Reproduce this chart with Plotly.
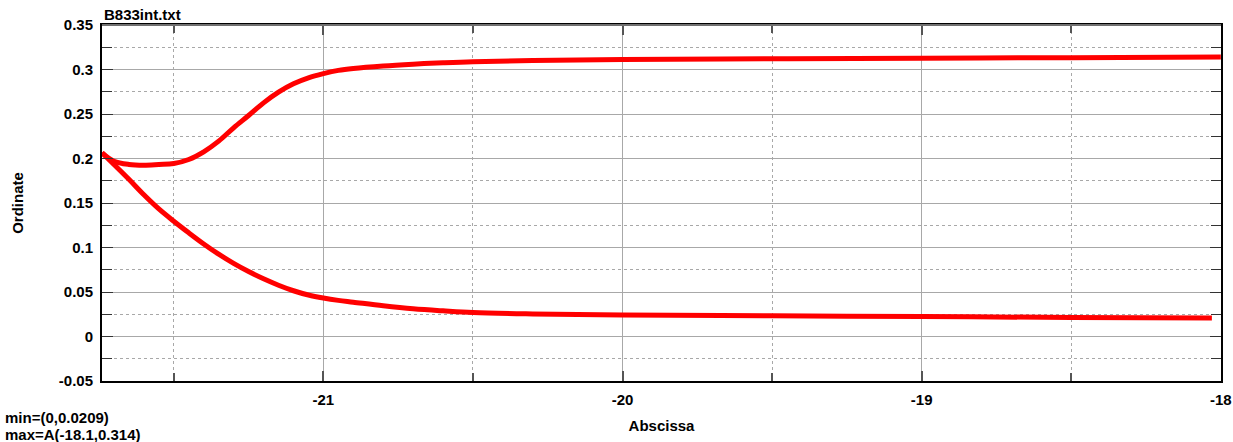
import plotly.graph_objects as go

# Curve samples (abscissa, ordinate)
x_upper = [-21.74, -21.70, -21.65, -21.60, -21.55, -21.50, -21.45, -21.40, -21.35, -21.30,
           -21.25, -21.20, -21.15, -21.10, -21.05, -21.00, -20.95, -20.90, -20.80, -20.70,
           -20.60, -20.50, -20.30, -20.00, -19.50, -19.00, -18.50, -18.00]
y_upper = [0.2064, 0.1970, 0.1933, 0.1925, 0.1933, 0.1944, 0.1989, 0.2075, 0.2195, 0.2345,
           0.2483, 0.2625, 0.2745, 0.2839, 0.2906, 0.2953, 0.2990, 0.3012, 0.3040, 0.3060,
           0.3076, 0.3088, 0.3100, 0.3112, 0.3120, 0.3127, 0.3133, 0.3140]

x_lower = [-21.74, -21.70, -21.65, -21.60, -21.55, -21.50, -21.45, -21.40, -21.35, -21.30,
           -21.25, -21.20, -21.15, -21.10, -21.05, -21.00, -20.95, -20.90, -20.80, -20.70,
           -20.60, -20.50, -20.30, -20.00, -19.50, -19.00, -18.50, -18.03]
y_lower = [0.2064, 0.1932, 0.1766, 0.1592, 0.1433, 0.1295, 0.1165, 0.1040, 0.0925, 0.0822,
           0.0730, 0.0648, 0.0576, 0.0514, 0.0466, 0.0432, 0.0406, 0.0386, 0.0345, 0.0311,
           0.0288, 0.0269, 0.0254, 0.0242, 0.0232, 0.0224, 0.0214, 0.0209]

x_tick_vals = [-21, -20, -19, -18]
x_tick_text = ["-21", "-20", "-19", "-18"]
y_tick_vals = [-0.05, 0, 0.05, 0.1, 0.15, 0.2, 0.25, 0.3, 0.35]
y_tick_text = ["-0.05", "0", "0.05", "0.1", "0.15", "0.2", "0.25", "0.3", "0.35"]

title_text = "B833int.txt"
x_title = "Abscissa"
y_title = "Ordinate"
min_text = "min=(0,0.0209)"
max_text = "max=A(-18.1,0.314)"

bold = dict(family="Liberation Sans, Arial, sans-serif", size=15, color="black", weight="bold")

fig = go.Figure()
for xs, ys in ((x_upper, y_upper), (x_lower, y_lower)):
    fig.add_trace(go.Scatter(x=xs, y=ys, mode="lines",
                             line=dict(color="#ff0000", width=5, shape="spline", smoothing=1.0),
                             showlegend=False, hoverinfo="skip"))

fig.update_layout(
    width=1233, height=442,
    margin=dict(l=102, r=12, t=25, b=61, autoexpand=False),
    paper_bgcolor="white", plot_bgcolor="white",
    showlegend=False,
)

fig.update_xaxes(
    range=[-21.74, -17.9995], tickmode="array", tickvals=x_tick_vals, ticktext=x_tick_text,
    automargin=False,
    showgrid=True, gridcolor="#a8a8a8", gridwidth=1,
    minor=dict(tickmode="linear", dtick=0.5, tick0=-18, showgrid=True, gridcolor="#a8a8a8",
               griddash="3px,3px", ticks="inside", ticklen=8, tickcolor="#555555"),
    showline=True, linecolor="black", linewidth=2, mirror="allticks",
    ticks="inside", ticklen=10, tickcolor="#555555", tickwidth=2,
    tickfont=bold, ticklabelstandoff=4, ticklabeloverflow="allow", zeroline=False,
    title=dict(text=x_title, font=bold, standoff=13),
)
fig.update_yaxes(
    range=[-0.05, 0.35], tickmode="array", tickvals=y_tick_vals, ticktext=y_tick_text,
    automargin=False,
    showgrid=True, gridcolor="#a8a8a8", gridwidth=1,
    minor=dict(tickmode="linear", dtick=0.025, tick0=0, showgrid=True, gridcolor="#a8a8a8",
               griddash="3px,3px", ticks="inside", ticklen=10, tickcolor="#333333"),
    showline=True, linecolor="black", linewidth=2, mirror="allticks",
    ticks="inside", ticklen=11, tickcolor="#333333", tickwidth=1,
    tickfont=bold, ticklabelstandoff=4, zeroline=False,
    title=dict(text=y_title, font=bold, standoff=32),
)

# lighter frame along the top
fig.add_shape(type="line", xref="paper", yref="paper", x0=0, x1=1, y0=1, y1=1,
              line=dict(color="#707070", width=2))

fig.add_annotation(text=title_text, xref="paper", yref="paper", x=0, y=1.0,
                   xanchor="left", yanchor="bottom", showarrow=False, font=bold)
# extreme-value notes in the lower-left corner
fig.add_annotation(text=min_text, xref="paper", yref="paper", x=-0.0876, y=-0.102,
                   xanchor="left", yanchor="middle", align="left", showarrow=False,
                   font=bold, borderpad=0)
fig.add_annotation(text=max_text, xref="paper", yref="paper", x=-0.0876, y=-0.150,
                   xanchor="left", yanchor="middle", align="left", showarrow=False,
                   font=bold, borderpad=0)

fig.write_html("out.html")
